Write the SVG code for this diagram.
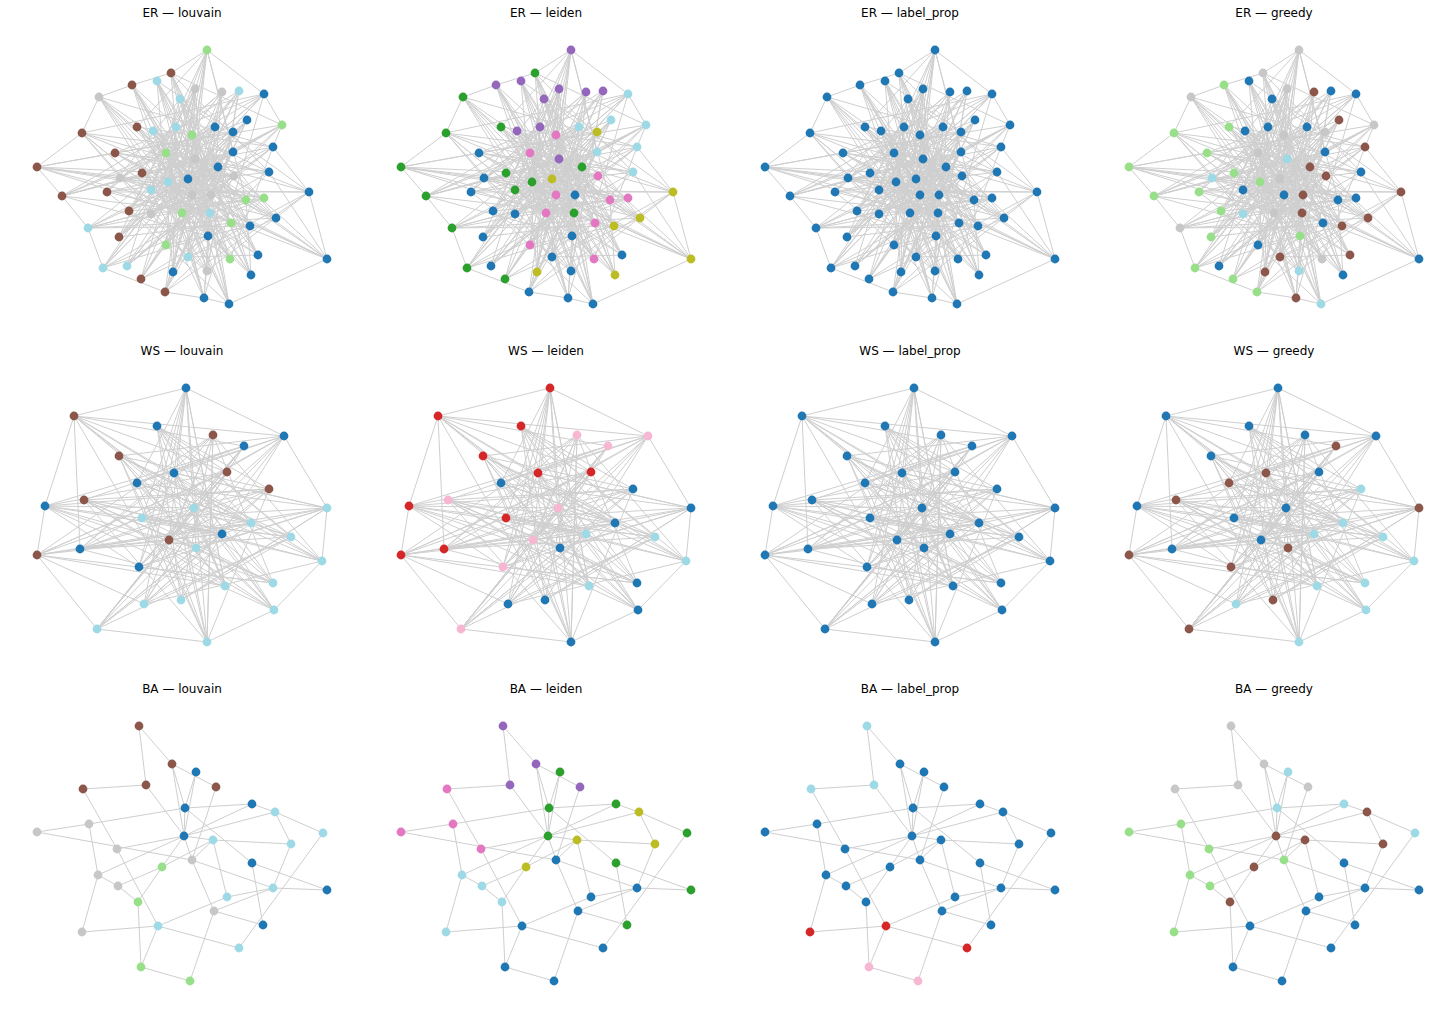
<svg xmlns="http://www.w3.org/2000/svg" xmlns:xlink="http://www.w3.org/1999/xlink" width="1456" height="1015" viewBox="0 0 1456 1015">
<style>
text{font-family:"DejaVu Sans","Liberation Sans",sans-serif;font-size:12px;fill:#000;text-anchor:middle}
.e{fill:none;stroke:#cfcfcf;stroke-width:1;stroke-linejoin:round}
circle{r:4.4px}
.b{fill:#1f77b4}.lb{fill:#9edae5}.br{fill:#8c564b}.g{fill:#c7c7c7}.lg{fill:#98df8a}.gr{fill:#2ca02c}.pu{fill:#9467bd}.pk{fill:#e377c2}.ol{fill:#bcbd22}.rd{fill:#d62728}.lp{fill:#f7b6d2}
</style>
<rect width="1456" height="1015" fill="#fff"/>
<defs>
<g id="er-edges" class="e">
<path d="M37,167 L82,133 L99,97 L132,85 L171,73 L207,50 L264,94 L282,125 L273,147 L309,192 L327,259 L229,304 L204,298 L165,292 L103,268 L88,228 L62,196 L37,167"/>
<path d="M207,50 L166,153 L204,298 L264,94 L151,190 L327,259 L115,153 L282,125 L129,211 L239,91 L207,271 L99,97 L246,200 L37,167 L233,132 L119,237 L207,50 L168,182 L229,304 L132,85 L276,218 L120,178 L222,92 L188,257 L82,133 L234,176 L127,266 L247,120 L165,292 L215,127 L62,196 L233,152 L173,272 L157,81 L258,255 L142,173 L273,147 L182,213 L171,73 L251,275 L153,131 L309,192 L107,192 L180,99 L230,259 L137,127 L231,223 L141,279 L195,89 L208,236 L103,268 L269,172 L176,127 L250,226 L88,228 L218,167 L151,214 L188,179 L264,198 L210,213 L192,195 L166,245 L211,195 L192,135 L195,159 L207,50"/>
<path d="M37,167 L115,153 L264,94 L151,214 L195,89 L165,292 L309,192 L151,190 L215,127 L127,266 L282,125 L168,182 L229,304 L192,135 L103,268 L247,120 L119,237 L233,152 L207,50 L182,213 L273,147 L99,97 L192,195 L327,259 L137,127 L188,179 L276,218 L88,228 L211,195 L157,81 L207,271 L107,192 L269,172 L166,153 L204,298 L222,92 L129,211 L246,200 L82,133 L208,236 L171,73 L250,226 L166,245 L239,91 L62,196 L210,213 L132,85 L251,275 L142,173 L233,132 L141,279 L218,167 L180,99 L231,223 L120,178 L264,198 L153,131 L230,259 L176,127 L173,272 L195,159 L258,255 L188,257 L234,176 L37,167"/>
<path d="M207,50 L137,127 L211,195 L229,304 L188,179 L282,125 L171,73 L258,255 L151,190 L264,94 L120,178 L230,259 L273,147 L129,211 L222,92 L141,279 L233,152 L82,133 L207,271 L309,192 L166,153 L250,226 L99,97 L182,213 L247,120 L103,268 L264,198 L37,167 L168,182 L231,223 L132,85 L204,298 L215,127 L88,228 L246,200 L153,131 L327,259 L142,173 L195,89 L188,257 L269,172 L115,153 L210,213 L165,292 L233,132 L157,81 L208,236 L62,196 L195,159 L276,218 L180,99 L127,266 L234,176 L151,214 L192,195 L239,91 L119,237 L192,135 L251,275 L218,167 L107,192 L176,127 L166,245 L207,50"/>
<path d="M327,259 L269,172 L171,73 L211,195 L88,228 L282,125 L166,245 L233,152 L62,196 L247,120 L173,272 L195,89 L129,211 L229,304 L180,99 L309,192 L188,257 L233,132 L127,266 L273,147 L137,127 L208,236 L82,133 L264,94 L151,214 L264,198 L165,292 L222,92 L107,192 L250,226 L157,81 L210,213 L37,167 L182,213 L218,167 L141,279 L276,218 L166,153 L207,271 L239,91 L103,268 L215,127 L120,178 L234,176 L115,153 L192,195 L132,85 L230,259 L99,97 L188,179 L207,50 L246,200 L251,275 L168,182 L176,127 L151,190 L204,298 L153,131 L258,255 L195,159 L119,237 L231,223 L192,135 L327,259"/>
</g>
<g id="ws-edges" class="e">
<path d="M186,388 L284,436 L327,508 L322,561 L274,610 L207,642 L97,629 L37,555 L45,506 L74,416 L186,388"/>
<path d="M186,388 L174,473 L207,642 L157,426 L181,600 L284,436 L142,518 L273,583 L74,416 L222,534 L97,629 L227,472 L37,555 L251,523 L119,456 L274,610 L45,506 L269,489 L144,604 L213,435 L80,549 L291,537 L137,483 L225,586 L84,500 L244,446 L139,567 L327,508 L169,540 L186,388"/>
<path d="M74,416 L194,508 L322,561 L119,456 L196,548 L284,436 L137,483 L207,642 L169,540 L227,472 L97,629 L269,489 L157,426 L273,583 L37,555 L222,534 L84,500 L251,523 L144,604 L186,388 L139,567 L244,446 L45,506 L291,537 L142,518 L213,435 L181,600 L327,508 L174,473 L225,586 L80,549 L74,416"/>
<path d="M207,642 L186,388 L225,586 L157,426 L322,561 L74,416 L244,446 L169,540 L269,489 L119,456 L291,537 L97,629 L194,508 L45,506 L227,472 L139,567 L284,436 L80,549 L251,523 L137,483 L274,610 L174,473 L273,583 L84,500 L196,548 L327,508 L142,518 L222,534 L144,604 L37,555 L213,435 L207,642"/>
<path d="M284,436 L74,416 L227,472 L144,604 L322,561 L84,500 L207,642 L269,489 L142,518 L186,388 L196,548 L97,629 L244,446 L137,483 L327,508 L37,555 L225,586 L119,456 L181,600 L291,537 L157,426 L251,523 L139,567 L45,506 L273,583 L213,435 L169,540 L274,610 L194,508 L80,549 L174,473 L284,436"/>
<path d="M186,388 L137,483 L291,537 L144,604 L244,446 L97,629 L284,436 L119,456 L207,642 L213,435 L322,561 L142,518 L37,555 L227,472 L157,426 L274,610 L84,500 L269,489 L80,549 L222,534 L45,506 L196,548 L273,583 L139,567 L174,473 L327,508 L181,600 L74,416 L251,523 L194,508 L225,586 L186,388"/>
</g>
<g id="ba-edges" class="e">
<path d="M139,726 L172,764 M139,726 L146,785 M172,764 L216,787 M172,764 L185,808 M172,764 L184,836 M196,772 L185,808 M196,772 L184,836 M146,785 L83,789 M146,785 L184,836 M185,808 L252,863 M216,787 L192,860 M83,789 L117,849 M117,849 L158,926 M185,808 L252,804 M185,808 L184,836 M185,808 L89,824 M252,804 L275,812 M252,804 L184,836 M275,812 L184,836 M275,812 L323,833 M275,812 L291,844 M37,832 L89,824 M37,832 L192,860 M89,824 L98,875 M184,836 L117,849 M184,836 L98,875 M184,836 L162,867 M184,836 L213,840 M213,840 L291,844 M184,836 L192,860 M192,860 L214,911 M213,840 L227,897 M213,840 L162,867 M213,840 L192,860 M162,867 L118,886 M162,867 L138,902 M98,875 L118,886 M98,875 L82,932 M118,886 L138,902 M273,888 L327,890 M273,888 L227,897 M273,888 L214,911 M273,888 L291,844 M323,833 L239,948 M252,863 L327,890 M252,863 L263,925 M214,911 L263,925 M214,911 L190,981 M158,926 L227,897 M158,926 L82,932 M158,926 L239,948 M158,926 L141,967 M138,902 L141,967 M141,967 L190,981 M192,860 L273,888"/>
</g>
</defs>

<g id="titles">
<text x="182" y="17">ER — louvain</text>
<text x="546" y="17">ER — leiden</text>
<text x="910" y="17">ER — label_prop</text>
<text x="1274" y="17">ER — greedy</text>
<text x="182" y="355">WS — louvain</text>
<text x="546" y="355">WS — leiden</text>
<text x="910" y="355">WS — label_prop</text>
<text x="1274" y="355">WS — greedy</text>
<text x="182" y="693">BA — louvain</text>
<text x="546" y="693">BA — leiden</text>
<text x="910" y="693">BA — label_prop</text>
<text x="1274" y="693">BA — greedy</text>
</g>

<g id="connectors">
<use xlink:href="#er-edges"/>
<use xlink:href="#er-edges" transform="translate(364,0)"/>
<use xlink:href="#er-edges" transform="translate(728,0)"/>
<use xlink:href="#er-edges" transform="translate(1092,0)"/>
<use xlink:href="#ws-edges"/>
<use xlink:href="#ws-edges" transform="translate(364,0)"/>
<use xlink:href="#ws-edges" transform="translate(728,0)"/>
<use xlink:href="#ws-edges" transform="translate(1092,0)"/>
<use xlink:href="#ba-edges"/>
<use xlink:href="#ba-edges" transform="translate(364,0)"/>
<use xlink:href="#ba-edges" transform="translate(728,0)"/>
<use xlink:href="#ba-edges" transform="translate(1092,0)"/>
</g>

<g id="er-louvain">
<circle id="erlv1" class="lg" cx="207" cy="50" r="4"/><circle id="erlv2" class="br" cx="171" cy="73" r="4"/><circle id="erlv3" class="lb" cx="157" cy="81" r="4"/><circle id="erlv4" class="br" cx="132" cy="85" r="4"/><circle id="erlv5" class="g" cx="99" cy="97" r="4"/><circle id="erlv6" class="g" cx="195" cy="89" r="4"/><circle id="erlv7" class="g" cx="222" cy="92" r="4"/><circle id="erlv8" class="lb" cx="239" cy="91" r="4"/><circle id="erlv9" class="b" cx="264" cy="94" r="4"/><circle id="erlv10" class="lb" cx="180" cy="99" r="4"/><circle id="erlv11" class="b" cx="247" cy="120" r="4"/><circle id="erlv12" class="lg" cx="282" cy="125" r="4"/><circle id="erlv13" class="br" cx="82" cy="133" r="4"/><circle id="erlv14" class="br" cx="137" cy="127" r="4"/><circle id="erlv15" class="lb" cx="153" cy="131" r="4"/><circle id="erlv16" class="lb" cx="176" cy="127" r="4"/><circle id="erlv17" class="lg" cx="192" cy="135" r="4"/><circle id="erlv18" class="b" cx="215" cy="127" r="4"/><circle id="erlv19" class="b" cx="233" cy="132" r="4"/><circle id="erlv20" class="b" cx="273" cy="147" r="4"/><circle id="erlv21" class="br" cx="115" cy="153" r="4"/><circle id="erlv22" class="lg" cx="166" cy="153" r="4"/><circle id="erlv23" class="g" cx="195" cy="159" r="4"/><circle id="erlv24" class="b" cx="233" cy="152" r="4"/><circle id="erlv25" class="br" cx="37" cy="167" r="4"/><circle id="erlv26" class="b" cx="218" cy="167" r="4"/><circle id="erlv27" class="b" cx="269" cy="172" r="4"/><circle id="erlv28" class="g" cx="120" cy="178" r="4"/><circle id="erlv29" class="br" cx="142" cy="173" r="4"/><circle id="erlv30" class="lb" cx="168" cy="182" r="4"/><circle id="erlv31" class="b" cx="188" cy="179" r="4"/><circle id="erlv32" class="g" cx="234" cy="176" r="4"/><circle id="erlv33" class="br" cx="62" cy="196" r="4"/><circle id="erlv34" class="br" cx="107" cy="192" r="4"/><circle id="erlv35" class="lb" cx="151" cy="190" r="4"/><circle id="erlv36" class="g" cx="192" cy="195" r="4"/><circle id="erlv37" class="g" cx="211" cy="195" r="4"/><circle id="erlv38" class="lg" cx="246" cy="200" r="4"/><circle id="erlv39" class="lg" cx="264" cy="198" r="4"/><circle id="erlv40" class="b" cx="309" cy="192" r="4"/><circle id="erlv41" class="br" cx="129" cy="211" r="4"/><circle id="erlv42" class="g" cx="151" cy="214" r="4"/><circle id="erlv43" class="lg" cx="182" cy="213" r="4"/><circle id="erlv44" class="lb" cx="210" cy="213" r="4"/><circle id="erlv45" class="lg" cx="231" cy="223" r="4"/><circle id="erlv46" class="b" cx="250" cy="226" r="4"/><circle id="erlv47" class="b" cx="276" cy="218" r="4"/><circle id="erlv48" class="lb" cx="88" cy="228" r="4"/><circle id="erlv49" class="br" cx="119" cy="237" r="4"/><circle id="erlv50" class="b" cx="208" cy="236" r="4"/><circle id="erlv51" class="lg" cx="166" cy="245" r="4"/><circle id="erlv52" class="lb" cx="188" cy="257" r="4"/><circle id="erlv53" class="lg" cx="230" cy="259" r="4"/><circle id="erlv54" class="b" cx="258" cy="255" r="4"/><circle id="erlv55" class="b" cx="327" cy="259" r="4"/><circle id="erlv56" class="lb" cx="103" cy="268" r="4"/><circle id="erlv57" class="lb" cx="127" cy="266" r="4"/><circle id="erlv58" class="b" cx="173" cy="272" r="4"/><circle id="erlv59" class="g" cx="207" cy="271" r="4"/><circle id="erlv60" class="b" cx="251" cy="275" r="4"/><circle id="erlv61" class="br" cx="141" cy="279" r="4"/><circle id="erlv62" class="br" cx="165" cy="292" r="4"/><circle id="erlv63" class="b" cx="204" cy="298" r="4"/><circle id="erlv64" class="b" cx="229" cy="304" r="4"/>
</g>

<g id="er-leiden" transform="translate(364,0)">
<circle id="erld1" class="pu" cx="207" cy="50" r="4"/><circle id="erld2" class="gr" cx="171" cy="73" r="4"/><circle id="erld3" class="pu" cx="157" cy="81" r="4"/><circle id="erld4" class="pu" cx="132" cy="85" r="4"/><circle id="erld5" class="gr" cx="99" cy="97" r="4"/><circle id="erld6" class="pu" cx="195" cy="89" r="4"/><circle id="erld7" class="pu" cx="222" cy="92" r="4"/><circle id="erld8" class="pu" cx="239" cy="91" r="4"/><circle id="erld9" class="lb" cx="264" cy="94" r="4"/><circle id="erld10" class="pu" cx="180" cy="99" r="4"/><circle id="erld11" class="lb" cx="247" cy="120" r="4"/><circle id="erld12" class="lb" cx="282" cy="125" r="4"/><circle id="erld13" class="gr" cx="82" cy="133" r="4"/><circle id="erld14" class="gr" cx="137" cy="127" r="4"/><circle id="erld15" class="pu" cx="153" cy="131" r="4"/><circle id="erld16" class="pu" cx="176" cy="127" r="4"/><circle id="erld17" class="pk" cx="192" cy="135" r="4"/><circle id="erld18" class="lb" cx="215" cy="127" r="4"/><circle id="erld19" class="ol" cx="233" cy="132" r="4"/><circle id="erld20" class="lb" cx="273" cy="147" r="4"/><circle id="erld21" class="b" cx="115" cy="153" r="4"/><circle id="erld22" class="pk" cx="166" cy="153" r="4"/><circle id="erld23" class="pu" cx="195" cy="159" r="4"/><circle id="erld24" class="lb" cx="233" cy="152" r="4"/><circle id="erld25" class="gr" cx="37" cy="167" r="4"/><circle id="erld26" class="gr" cx="218" cy="167" r="4"/><circle id="erld27" class="lb" cx="269" cy="172" r="4"/><circle id="erld28" class="b" cx="120" cy="178" r="4"/><circle id="erld29" class="gr" cx="142" cy="173" r="4"/><circle id="erld30" class="gr" cx="168" cy="182" r="4"/><circle id="erld31" class="ol" cx="188" cy="179" r="4"/><circle id="erld32" class="pk" cx="234" cy="176" r="4"/><circle id="erld33" class="gr" cx="62" cy="196" r="4"/><circle id="erld34" class="b" cx="107" cy="192" r="4"/><circle id="erld35" class="gr" cx="151" cy="190" r="4"/><circle id="erld36" class="pk" cx="192" cy="195" r="4"/><circle id="erld37" class="b" cx="211" cy="195" r="4"/><circle id="erld38" class="pk" cx="246" cy="200" r="4"/><circle id="erld39" class="pk" cx="264" cy="198" r="4"/><circle id="erld40" class="ol" cx="309" cy="192" r="4"/><circle id="erld41" class="b" cx="129" cy="211" r="4"/><circle id="erld42" class="b" cx="151" cy="214" r="4"/><circle id="erld43" class="pk" cx="182" cy="213" r="4"/><circle id="erld44" class="gr" cx="210" cy="213" r="4"/><circle id="erld45" class="pk" cx="231" cy="223" r="4"/><circle id="erld46" class="ol" cx="250" cy="226" r="4"/><circle id="erld47" class="ol" cx="276" cy="218" r="4"/><circle id="erld48" class="gr" cx="88" cy="228" r="4"/><circle id="erld49" class="b" cx="119" cy="237" r="4"/><circle id="erld50" class="b" cx="208" cy="236" r="4"/><circle id="erld51" class="pk" cx="166" cy="245" r="4"/><circle id="erld52" class="b" cx="188" cy="257" r="4"/><circle id="erld53" class="pk" cx="230" cy="259" r="4"/><circle id="erld54" class="b" cx="258" cy="255" r="4"/><circle id="erld55" class="ol" cx="327" cy="259" r="4"/><circle id="erld56" class="gr" cx="103" cy="268" r="4"/><circle id="erld57" class="b" cx="127" cy="266" r="4"/><circle id="erld58" class="ol" cx="173" cy="272" r="4"/><circle id="erld59" class="b" cx="207" cy="271" r="4"/><circle id="erld60" class="ol" cx="251" cy="275" r="4"/><circle id="erld61" class="gr" cx="141" cy="279" r="4"/><circle id="erld62" class="b" cx="165" cy="292" r="4"/><circle id="erld63" class="b" cx="204" cy="298" r="4"/><circle id="erld64" class="b" cx="229" cy="304" r="4"/>
</g>

<g id="er-label_prop" transform="translate(728,0)" class="b">
<circle id="erlp1" cx="207" cy="50" r="4"/><circle id="erlp2" cx="171" cy="73" r="4"/><circle id="erlp3" cx="157" cy="81" r="4"/><circle id="erlp4" cx="132" cy="85" r="4"/><circle id="erlp5" cx="99" cy="97" r="4"/><circle id="erlp6" cx="195" cy="89" r="4"/><circle id="erlp7" cx="222" cy="92" r="4"/><circle id="erlp8" cx="239" cy="91" r="4"/><circle id="erlp9" cx="264" cy="94" r="4"/><circle id="erlp10" cx="180" cy="99" r="4"/><circle id="erlp11" cx="247" cy="120" r="4"/><circle id="erlp12" cx="282" cy="125" r="4"/><circle id="erlp13" cx="82" cy="133" r="4"/><circle id="erlp14" cx="137" cy="127" r="4"/><circle id="erlp15" cx="153" cy="131" r="4"/><circle id="erlp16" cx="176" cy="127" r="4"/><circle id="erlp17" cx="192" cy="135" r="4"/><circle id="erlp18" cx="215" cy="127" r="4"/><circle id="erlp19" cx="233" cy="132" r="4"/><circle id="erlp20" cx="273" cy="147" r="4"/><circle id="erlp21" cx="115" cy="153" r="4"/><circle id="erlp22" cx="166" cy="153" r="4"/><circle id="erlp23" cx="195" cy="159" r="4"/><circle id="erlp24" cx="233" cy="152" r="4"/><circle id="erlp25" cx="37" cy="167" r="4"/><circle id="erlp26" cx="218" cy="167" r="4"/><circle id="erlp27" cx="269" cy="172" r="4"/><circle id="erlp28" cx="120" cy="178" r="4"/><circle id="erlp29" cx="142" cy="173" r="4"/><circle id="erlp30" cx="168" cy="182" r="4"/><circle id="erlp31" cx="188" cy="179" r="4"/><circle id="erlp32" cx="234" cy="176" r="4"/><circle id="erlp33" cx="62" cy="196" r="4"/><circle id="erlp34" cx="107" cy="192" r="4"/><circle id="erlp35" cx="151" cy="190" r="4"/><circle id="erlp36" cx="192" cy="195" r="4"/><circle id="erlp37" cx="211" cy="195" r="4"/><circle id="erlp38" cx="246" cy="200" r="4"/><circle id="erlp39" cx="264" cy="198" r="4"/><circle id="erlp40" cx="309" cy="192" r="4"/><circle id="erlp41" cx="129" cy="211" r="4"/><circle id="erlp42" cx="151" cy="214" r="4"/><circle id="erlp43" cx="182" cy="213" r="4"/><circle id="erlp44" cx="210" cy="213" r="4"/><circle id="erlp45" cx="231" cy="223" r="4"/><circle id="erlp46" cx="250" cy="226" r="4"/><circle id="erlp47" cx="276" cy="218" r="4"/><circle id="erlp48" cx="88" cy="228" r="4"/><circle id="erlp49" cx="119" cy="237" r="4"/><circle id="erlp50" cx="208" cy="236" r="4"/><circle id="erlp51" cx="166" cy="245" r="4"/><circle id="erlp52" cx="188" cy="257" r="4"/><circle id="erlp53" cx="230" cy="259" r="4"/><circle id="erlp54" cx="258" cy="255" r="4"/><circle id="erlp55" cx="327" cy="259" r="4"/><circle id="erlp56" cx="103" cy="268" r="4"/><circle id="erlp57" cx="127" cy="266" r="4"/><circle id="erlp58" cx="173" cy="272" r="4"/><circle id="erlp59" cx="207" cy="271" r="4"/><circle id="erlp60" cx="251" cy="275" r="4"/><circle id="erlp61" cx="141" cy="279" r="4"/><circle id="erlp62" cx="165" cy="292" r="4"/><circle id="erlp63" cx="204" cy="298" r="4"/><circle id="erlp64" cx="229" cy="304" r="4"/>
</g>

<g id="er-greedy" transform="translate(1092,0)">
<circle id="ergr1" class="g" cx="207" cy="50" r="4"/><circle id="ergr2" class="g" cx="171" cy="73" r="4"/><circle id="ergr3" class="b" cx="157" cy="81" r="4"/><circle id="ergr4" class="lg" cx="132" cy="85" r="4"/><circle id="ergr5" class="g" cx="99" cy="97" r="4"/><circle id="ergr6" class="g" cx="195" cy="89" r="4"/><circle id="ergr7" class="br" cx="222" cy="92" r="4"/><circle id="ergr8" class="b" cx="239" cy="91" r="4"/><circle id="ergr9" class="b" cx="264" cy="94" r="4"/><circle id="ergr10" class="b" cx="180" cy="99" r="4"/><circle id="ergr11" class="br" cx="247" cy="120" r="4"/><circle id="ergr12" class="g" cx="282" cy="125" r="4"/><circle id="ergr13" class="lg" cx="82" cy="133" r="4"/><circle id="ergr14" class="lg" cx="137" cy="127" r="4"/><circle id="ergr15" class="b" cx="153" cy="131" r="4"/><circle id="ergr16" class="b" cx="176" cy="127" r="4"/><circle id="ergr17" class="g" cx="192" cy="135" r="4"/><circle id="ergr18" class="b" cx="215" cy="127" r="4"/><circle id="ergr19" class="g" cx="233" cy="132" r="4"/><circle id="ergr20" class="br" cx="273" cy="147" r="4"/><circle id="ergr21" class="lg" cx="115" cy="153" r="4"/><circle id="ergr22" class="g" cx="166" cy="153" r="4"/><circle id="ergr23" class="lb" cx="195" cy="159" r="4"/><circle id="ergr24" class="b" cx="233" cy="152" r="4"/><circle id="ergr25" class="lg" cx="37" cy="167" r="4"/><circle id="ergr26" class="br" cx="218" cy="167" r="4"/><circle id="ergr27" class="b" cx="269" cy="172" r="4"/><circle id="ergr28" class="lb" cx="120" cy="178" r="4"/><circle id="ergr29" class="lg" cx="142" cy="173" r="4"/><circle id="ergr30" class="lg" cx="168" cy="182" r="4"/><circle id="ergr31" class="g" cx="188" cy="179" r="4"/><circle id="ergr32" class="br" cx="234" cy="176" r="4"/><circle id="ergr33" class="lg" cx="62" cy="196" r="4"/><circle id="ergr34" class="lg" cx="107" cy="192" r="4"/><circle id="ergr35" class="b" cx="151" cy="190" r="4"/><circle id="ergr36" class="b" cx="192" cy="195" r="4"/><circle id="ergr37" class="br" cx="211" cy="195" r="4"/><circle id="ergr38" class="b" cx="246" cy="200" r="4"/><circle id="ergr39" class="b" cx="264" cy="198" r="4"/><circle id="ergr40" class="br" cx="309" cy="192" r="4"/><circle id="ergr41" class="lg" cx="129" cy="211" r="4"/><circle id="ergr42" class="lb" cx="151" cy="214" r="4"/><circle id="ergr43" class="g" cx="182" cy="213" r="4"/><circle id="ergr44" class="br" cx="210" cy="213" r="4"/><circle id="ergr45" class="b" cx="231" cy="223" r="4"/><circle id="ergr46" class="br" cx="250" cy="226" r="4"/><circle id="ergr47" class="br" cx="276" cy="218" r="4"/><circle id="ergr48" class="g" cx="88" cy="228" r="4"/><circle id="ergr49" class="lg" cx="119" cy="237" r="4"/><circle id="ergr50" class="lg" cx="208" cy="236" r="4"/><circle id="ergr51" class="b" cx="166" cy="245" r="4"/><circle id="ergr52" class="br" cx="188" cy="257" r="4"/><circle id="ergr53" class="g" cx="230" cy="259" r="4"/><circle id="ergr54" class="br" cx="258" cy="255" r="4"/><circle id="ergr55" class="b" cx="327" cy="259" r="4"/><circle id="ergr56" class="lg" cx="103" cy="268" r="4"/><circle id="ergr57" class="b" cx="127" cy="266" r="4"/><circle id="ergr58" class="br" cx="173" cy="272" r="4"/><circle id="ergr59" class="lb" cx="207" cy="271" r="4"/><circle id="ergr60" class="b" cx="251" cy="275" r="4"/><circle id="ergr61" class="lg" cx="141" cy="279" r="4"/><circle id="ergr62" class="lg" cx="165" cy="292" r="4"/><circle id="ergr63" class="br" cx="204" cy="298" r="4"/><circle id="ergr64" class="lb" cx="229" cy="304" r="4"/>
</g>

<g id="ws-louvain">
<circle id="wslv1" class="b" cx="186" cy="388" r="4"/><circle id="wslv2" class="br" cx="74" cy="416" r="4"/><circle id="wslv3" class="b" cx="157" cy="426" r="4"/><circle id="wslv4" class="br" cx="213" cy="435" r="4"/><circle id="wslv5" class="b" cx="284" cy="436" r="4"/><circle id="wslv6" class="b" cx="244" cy="446" r="4"/><circle id="wslv7" class="br" cx="119" cy="456" r="4"/><circle id="wslv8" class="b" cx="174" cy="473" r="4"/><circle id="wslv9" class="br" cx="227" cy="472" r="4"/><circle id="wslv10" class="b" cx="137" cy="483" r="4"/><circle id="wslv11" class="br" cx="269" cy="489" r="4"/><circle id="wslv12" class="b" cx="45" cy="506" r="4"/><circle id="wslv13" class="br" cx="84" cy="500" r="4"/><circle id="wslv14" class="lb" cx="194" cy="508" r="4"/><circle id="wslv15" class="lb" cx="327" cy="508" r="4"/><circle id="wslv16" class="lb" cx="142" cy="518" r="4"/><circle id="wslv17" class="lb" cx="251" cy="523" r="4"/><circle id="wslv18" class="br" cx="169" cy="540" r="4"/><circle id="wslv19" class="b" cx="222" cy="534" r="4"/><circle id="wslv20" class="lb" cx="291" cy="537" r="4"/><circle id="wslv21" class="br" cx="37" cy="555" r="4"/><circle id="wslv22" class="b" cx="80" cy="549" r="4"/><circle id="wslv23" class="lb" cx="196" cy="548" r="4"/><circle id="wslv24" class="lb" cx="322" cy="561" r="4"/><circle id="wslv25" class="b" cx="139" cy="567" r="4"/><circle id="wslv26" class="lb" cx="225" cy="586" r="4"/><circle id="wslv27" class="lb" cx="273" cy="583" r="4"/><circle id="wslv28" class="lb" cx="144" cy="604" r="4"/><circle id="wslv29" class="lb" cx="181" cy="600" r="4"/><circle id="wslv30" class="lb" cx="274" cy="610" r="4"/><circle id="wslv31" class="lb" cx="97" cy="629" r="4"/><circle id="wslv32" class="lb" cx="207" cy="642" r="4"/>
</g>

<g id="ws-leiden" transform="translate(364,0)">
<circle id="wsld1" class="rd" cx="186" cy="388" r="4"/><circle id="wsld2" class="rd" cx="74" cy="416" r="4"/><circle id="wsld3" class="rd" cx="157" cy="426" r="4"/><circle id="wsld4" class="lp" cx="213" cy="435" r="4"/><circle id="wsld5" class="lp" cx="284" cy="436" r="4"/><circle id="wsld6" class="lp" cx="244" cy="446" r="4"/><circle id="wsld7" class="rd" cx="119" cy="456" r="4"/><circle id="wsld8" class="rd" cx="174" cy="473" r="4"/><circle id="wsld9" class="rd" cx="227" cy="472" r="4"/><circle id="wsld10" class="b" cx="137" cy="483" r="4"/><circle id="wsld11" class="b" cx="269" cy="489" r="4"/><circle id="wsld12" class="rd" cx="45" cy="506" r="4"/><circle id="wsld13" class="lp" cx="84" cy="500" r="4"/><circle id="wsld14" class="lp" cx="194" cy="508" r="4"/><circle id="wsld15" class="b" cx="327" cy="508" r="4"/><circle id="wsld16" class="rd" cx="142" cy="518" r="4"/><circle id="wsld17" class="b" cx="251" cy="523" r="4"/><circle id="wsld18" class="lp" cx="169" cy="540" r="4"/><circle id="wsld19" class="lb" cx="222" cy="534" r="4"/><circle id="wsld20" class="lb" cx="291" cy="537" r="4"/><circle id="wsld21" class="rd" cx="37" cy="555" r="4"/><circle id="wsld22" class="rd" cx="80" cy="549" r="4"/><circle id="wsld23" class="b" cx="196" cy="548" r="4"/><circle id="wsld24" class="lb" cx="322" cy="561" r="4"/><circle id="wsld25" class="lp" cx="139" cy="567" r="4"/><circle id="wsld26" class="lb" cx="225" cy="586" r="4"/><circle id="wsld27" class="b" cx="273" cy="583" r="4"/><circle id="wsld28" class="b" cx="144" cy="604" r="4"/><circle id="wsld29" class="b" cx="181" cy="600" r="4"/><circle id="wsld30" class="b" cx="274" cy="610" r="4"/><circle id="wsld31" class="lp" cx="97" cy="629" r="4"/><circle id="wsld32" class="b" cx="207" cy="642" r="4"/>
</g>

<g id="ws-label_prop" transform="translate(728,0)" class="b">
<circle id="wslp1" cx="186" cy="388" r="4"/><circle id="wslp2" cx="74" cy="416" r="4"/><circle id="wslp3" cx="157" cy="426" r="4"/><circle id="wslp4" cx="213" cy="435" r="4"/><circle id="wslp5" cx="284" cy="436" r="4"/><circle id="wslp6" cx="244" cy="446" r="4"/><circle id="wslp7" cx="119" cy="456" r="4"/><circle id="wslp8" cx="174" cy="473" r="4"/><circle id="wslp9" cx="227" cy="472" r="4"/><circle id="wslp10" cx="137" cy="483" r="4"/><circle id="wslp11" cx="269" cy="489" r="4"/><circle id="wslp12" cx="45" cy="506" r="4"/><circle id="wslp13" cx="84" cy="500" r="4"/><circle id="wslp14" cx="194" cy="508" r="4"/><circle id="wslp15" cx="327" cy="508" r="4"/><circle id="wslp16" cx="142" cy="518" r="4"/><circle id="wslp17" cx="251" cy="523" r="4"/><circle id="wslp18" cx="169" cy="540" r="4"/><circle id="wslp19" cx="222" cy="534" r="4"/><circle id="wslp20" cx="291" cy="537" r="4"/><circle id="wslp21" cx="37" cy="555" r="4"/><circle id="wslp22" cx="80" cy="549" r="4"/><circle id="wslp23" cx="196" cy="548" r="4"/><circle id="wslp24" cx="322" cy="561" r="4"/><circle id="wslp25" cx="139" cy="567" r="4"/><circle id="wslp26" cx="225" cy="586" r="4"/><circle id="wslp27" cx="273" cy="583" r="4"/><circle id="wslp28" cx="144" cy="604" r="4"/><circle id="wslp29" cx="181" cy="600" r="4"/><circle id="wslp30" cx="274" cy="610" r="4"/><circle id="wslp31" cx="97" cy="629" r="4"/><circle id="wslp32" cx="207" cy="642" r="4"/>
</g>

<g id="ws-greedy" transform="translate(1092,0)">
<circle id="wsgr1" class="b" cx="186" cy="388" r="4"/><circle id="wsgr2" class="b" cx="74" cy="416" r="4"/><circle id="wsgr3" class="b" cx="157" cy="426" r="4"/><circle id="wsgr4" class="b" cx="213" cy="435" r="4"/><circle id="wsgr5" class="b" cx="284" cy="436" r="4"/><circle id="wsgr6" class="br" cx="244" cy="446" r="4"/><circle id="wsgr7" class="b" cx="119" cy="456" r="4"/><circle id="wsgr8" class="br" cx="174" cy="473" r="4"/><circle id="wsgr9" class="b" cx="227" cy="472" r="4"/><circle id="wsgr10" class="br" cx="137" cy="483" r="4"/><circle id="wsgr11" class="lb" cx="269" cy="489" r="4"/><circle id="wsgr12" class="b" cx="45" cy="506" r="4"/><circle id="wsgr13" class="br" cx="84" cy="500" r="4"/><circle id="wsgr14" class="b" cx="194" cy="508" r="4"/><circle id="wsgr15" class="br" cx="327" cy="508" r="4"/><circle id="wsgr16" class="b" cx="142" cy="518" r="4"/><circle id="wsgr17" class="lb" cx="251" cy="523" r="4"/><circle id="wsgr18" class="b" cx="169" cy="540" r="4"/><circle id="wsgr19" class="lb" cx="222" cy="534" r="4"/><circle id="wsgr20" class="lb" cx="291" cy="537" r="4"/><circle id="wsgr21" class="br" cx="37" cy="555" r="4"/><circle id="wsgr22" class="b" cx="80" cy="549" r="4"/><circle id="wsgr23" class="br" cx="196" cy="548" r="4"/><circle id="wsgr24" class="lb" cx="322" cy="561" r="4"/><circle id="wsgr25" class="br" cx="139" cy="567" r="4"/><circle id="wsgr26" class="lb" cx="225" cy="586" r="4"/><circle id="wsgr27" class="lb" cx="273" cy="583" r="4"/><circle id="wsgr28" class="lb" cx="144" cy="604" r="4"/><circle id="wsgr29" class="br" cx="181" cy="600" r="4"/><circle id="wsgr30" class="lb" cx="274" cy="610" r="4"/><circle id="wsgr31" class="br" cx="97" cy="629" r="4"/><circle id="wsgr32" class="lb" cx="207" cy="642" r="4"/>
</g>

<g id="ba-louvain">
<circle id="balv1" class="br" cx="139" cy="726" r="4"/><circle id="balv2" class="br" cx="172" cy="764" r="4"/><circle id="balv3" class="b" cx="196" cy="772" r="4"/><circle id="balv4" class="br" cx="146" cy="785" r="4"/><circle id="balv5" class="br" cx="216" cy="787" r="4"/><circle id="balv6" class="br" cx="83" cy="789" r="4"/><circle id="balv7" class="b" cx="185" cy="808" r="4"/><circle id="balv8" class="b" cx="252" cy="804" r="4"/><circle id="balv9" class="lb" cx="275" cy="812" r="4"/><circle id="balv10" class="g" cx="37" cy="832" r="4"/><circle id="balv11" class="g" cx="89" cy="824" r="4"/><circle id="balv12" class="b" cx="184" cy="836" r="4"/><circle id="balv13" class="lb" cx="213" cy="840" r="4"/><circle id="balv14" class="lb" cx="323" cy="833" r="4"/><circle id="balv15" class="lb" cx="291" cy="844" r="4"/><circle id="balv16" class="g" cx="117" cy="849" r="4"/><circle id="balv17" class="g" cx="192" cy="860" r="4"/><circle id="balv18" class="b" cx="252" cy="863" r="4"/><circle id="balv19" class="lg" cx="162" cy="867" r="4"/><circle id="balv20" class="g" cx="98" cy="875" r="4"/><circle id="balv21" class="g" cx="118" cy="886" r="4"/><circle id="balv22" class="lb" cx="273" cy="888" r="4"/><circle id="balv23" class="b" cx="327" cy="890" r="4"/><circle id="balv24" class="lg" cx="138" cy="902" r="4"/><circle id="balv25" class="lb" cx="227" cy="897" r="4"/><circle id="balv26" class="g" cx="214" cy="911" r="4"/><circle id="balv27" class="lb" cx="158" cy="926" r="4"/><circle id="balv28" class="b" cx="263" cy="925" r="4"/><circle id="balv29" class="g" cx="82" cy="932" r="4"/><circle id="balv30" class="lb" cx="239" cy="948" r="4"/><circle id="balv31" class="lg" cx="141" cy="967" r="4"/><circle id="balv32" class="lg" cx="190" cy="981" r="4"/>
</g>

<g id="ba-leiden" transform="translate(364,0)">
<circle id="bald1" class="pu" cx="139" cy="726" r="4"/><circle id="bald2" class="pu" cx="172" cy="764" r="4"/><circle id="bald3" class="gr" cx="196" cy="772" r="4"/><circle id="bald4" class="pu" cx="146" cy="785" r="4"/><circle id="bald5" class="pu" cx="216" cy="787" r="4"/><circle id="bald6" class="pk" cx="83" cy="789" r="4"/><circle id="bald7" class="gr" cx="185" cy="808" r="4"/><circle id="bald8" class="gr" cx="252" cy="804" r="4"/><circle id="bald9" class="ol" cx="275" cy="812" r="4"/><circle id="bald10" class="pk" cx="37" cy="832" r="4"/><circle id="bald11" class="pk" cx="89" cy="824" r="4"/><circle id="bald12" class="gr" cx="184" cy="836" r="4"/><circle id="bald13" class="ol" cx="213" cy="840" r="4"/><circle id="bald14" class="gr" cx="323" cy="833" r="4"/><circle id="bald15" class="ol" cx="291" cy="844" r="4"/><circle id="bald16" class="pk" cx="117" cy="849" r="4"/><circle id="bald17" class="b" cx="192" cy="860" r="4"/><circle id="bald18" class="gr" cx="252" cy="863" r="4"/><circle id="bald19" class="ol" cx="162" cy="867" r="4"/><circle id="bald20" class="lb" cx="98" cy="875" r="4"/><circle id="bald21" class="lb" cx="118" cy="886" r="4"/><circle id="bald22" class="b" cx="273" cy="888" r="4"/><circle id="bald23" class="gr" cx="327" cy="890" r="4"/><circle id="bald24" class="lb" cx="138" cy="902" r="4"/><circle id="bald25" class="b" cx="227" cy="897" r="4"/><circle id="bald26" class="b" cx="214" cy="911" r="4"/><circle id="bald27" class="b" cx="158" cy="926" r="4"/><circle id="bald28" class="gr" cx="263" cy="925" r="4"/><circle id="bald29" class="lb" cx="82" cy="932" r="4"/><circle id="bald30" class="b" cx="239" cy="948" r="4"/><circle id="bald31" class="b" cx="141" cy="967" r="4"/><circle id="bald32" class="b" cx="190" cy="981" r="4"/>
</g>

<g id="ba-label_prop" transform="translate(728,0)">
<circle id="balp1" class="lb" cx="139" cy="726" r="4"/><circle id="balp2" class="b" cx="172" cy="764" r="4"/><circle id="balp3" class="b" cx="196" cy="772" r="4"/><circle id="balp4" class="lb" cx="146" cy="785" r="4"/><circle id="balp5" class="b" cx="216" cy="787" r="4"/><circle id="balp6" class="lb" cx="83" cy="789" r="4"/><circle id="balp7" class="b" cx="185" cy="808" r="4"/><circle id="balp8" class="b" cx="252" cy="804" r="4"/><circle id="balp9" class="b" cx="275" cy="812" r="4"/><circle id="balp10" class="b" cx="37" cy="832" r="4"/><circle id="balp11" class="b" cx="89" cy="824" r="4"/><circle id="balp12" class="b" cx="184" cy="836" r="4"/><circle id="balp13" class="b" cx="213" cy="840" r="4"/><circle id="balp14" class="b" cx="323" cy="833" r="4"/><circle id="balp15" class="b" cx="291" cy="844" r="4"/><circle id="balp16" class="b" cx="117" cy="849" r="4"/><circle id="balp17" class="b" cx="192" cy="860" r="4"/><circle id="balp18" class="b" cx="252" cy="863" r="4"/><circle id="balp19" class="b" cx="162" cy="867" r="4"/><circle id="balp20" class="b" cx="98" cy="875" r="4"/><circle id="balp21" class="b" cx="118" cy="886" r="4"/><circle id="balp22" class="b" cx="273" cy="888" r="4"/><circle id="balp23" class="b" cx="327" cy="890" r="4"/><circle id="balp24" class="b" cx="138" cy="902" r="4"/><circle id="balp25" class="b" cx="227" cy="897" r="4"/><circle id="balp26" class="b" cx="214" cy="911" r="4"/><circle id="balp27" class="rd" cx="158" cy="926" r="4"/><circle id="balp28" class="b" cx="263" cy="925" r="4"/><circle id="balp29" class="rd" cx="82" cy="932" r="4"/><circle id="balp30" class="rd" cx="239" cy="948" r="4"/><circle id="balp31" class="lp" cx="141" cy="967" r="4"/><circle id="balp32" class="lp" cx="190" cy="981" r="4"/>
</g>

<g id="ba-greedy" transform="translate(1092,0)">
<circle id="bagr1" class="g" cx="139" cy="726" r="4"/><circle id="bagr2" class="g" cx="172" cy="764" r="4"/><circle id="bagr3" class="lb" cx="196" cy="772" r="4"/><circle id="bagr4" class="g" cx="146" cy="785" r="4"/><circle id="bagr5" class="g" cx="216" cy="787" r="4"/><circle id="bagr6" class="g" cx="83" cy="789" r="4"/><circle id="bagr7" class="lb" cx="185" cy="808" r="4"/><circle id="bagr8" class="lb" cx="252" cy="804" r="4"/><circle id="bagr9" class="br" cx="275" cy="812" r="4"/><circle id="bagr10" class="lg" cx="37" cy="832" r="4"/><circle id="bagr11" class="lg" cx="89" cy="824" r="4"/><circle id="bagr12" class="br" cx="184" cy="836" r="4"/><circle id="bagr13" class="br" cx="213" cy="840" r="4"/><circle id="bagr14" class="lb" cx="323" cy="833" r="4"/><circle id="bagr15" class="br" cx="291" cy="844" r="4"/><circle id="bagr16" class="lg" cx="117" cy="849" r="4"/><circle id="bagr17" class="lg" cx="192" cy="860" r="4"/><circle id="bagr18" class="b" cx="252" cy="863" r="4"/><circle id="bagr19" class="br" cx="162" cy="867" r="4"/><circle id="bagr20" class="lg" cx="98" cy="875" r="4"/><circle id="bagr21" class="lg" cx="118" cy="886" r="4"/><circle id="bagr22" class="b" cx="273" cy="888" r="4"/><circle id="bagr23" class="b" cx="327" cy="890" r="4"/><circle id="bagr24" class="br" cx="138" cy="902" r="4"/><circle id="bagr25" class="b" cx="227" cy="897" r="4"/><circle id="bagr26" class="b" cx="214" cy="911" r="4"/><circle id="bagr27" class="b" cx="158" cy="926" r="4"/><circle id="bagr28" class="b" cx="263" cy="925" r="4"/><circle id="bagr29" class="lg" cx="82" cy="932" r="4"/><circle id="bagr30" class="b" cx="239" cy="948" r="4"/><circle id="bagr31" class="b" cx="141" cy="967" r="4"/><circle id="bagr32" class="b" cx="190" cy="981" r="4"/>
</g>
</svg>
